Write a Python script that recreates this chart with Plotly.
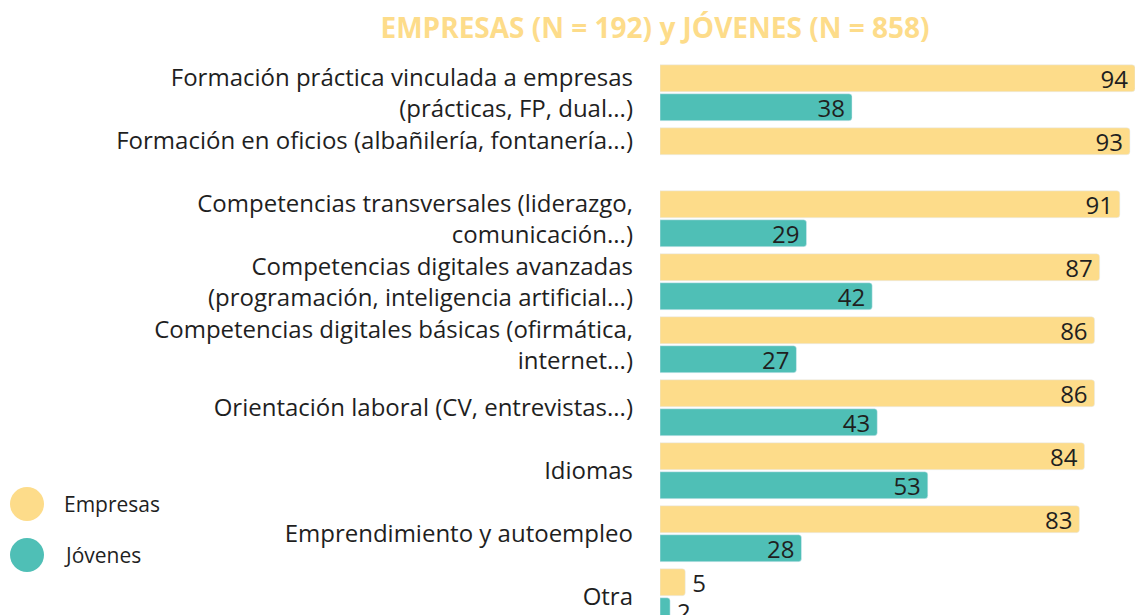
import plotly.graph_objects as go

categories = [
    "Formación práctica vinculada a empresas<br>(prácticas, FP, dual...)",
    "Formación en oficios (albañilería, fontanería...)<br> ",
    "Competencias transversales (liderazgo,<br>comunicación...)",
    "Competencias digitales avanzadas<br>(programación, inteligencia artificial...)",
    "Competencias digitales básicas (ofirmática,<br>internet...)",
    "Orientación laboral (CV, entrevistas...)",
    "Idiomas",
    "Emprendimiento y autoempleo",
    "Otra",
]
empresas = [94, 93, 91, 87, 86, 86, 84, 83, 5]
jovenes = [38, None, 29, 42, 27, 43, 53, 28, 2]

YELLOW = "#FDDC8A"
TEAL = "#4FBFB6"
FONT = "Open Sans"
TXT = "#1f1f1f"

fig = go.Figure()
for name, vals, col in [("Empresas", empresas, YELLOW), ("Jóvenes", jovenes, TEAL)]:
    positions = ["outside" if (v is not None and v < 10) else "inside" for v in vals]
    fig.add_trace(go.Bar(
        y=categories, x=vals, orientation="h", name=name,
        marker=dict(color=col),
        texttemplate="\u2009%{x}\u2009", textposition=positions, textangle=0,
        constraintext="none", insidetextanchor="end",
        textfont=dict(color=TXT, size=24, family=FONT),
        cliponaxis=False, showlegend=False, hoverinfo="x+y",
    ))

# legend drawn manually (large circles)
legend_items = [("Empresas", YELLOW, 111), ("Jóvenes", TEAL, 60)]
shapes = []
annotations = []
for name, col, off in legend_items:
    shapes.append(dict(type="circle", xref="paper", yref="paper", xanchor=0, yanchor=0,
                       xsizemode="pixel", ysizemode="pixel",
                       x0=-650, x1=-616, y0=off - 17, y1=off + 17,
                       fillcolor=col, line=dict(width=0)))
    annotations.append(dict(text=name, xref="paper", yref="paper",
                            x=(62 - 660) / 475, y=off / 555, xanchor="left", yanchor="middle",
                            showarrow=False, font=dict(family=FONT, size=21, color=TXT)))

fig.update_layout(
    width=1135, height=615,
    margin=dict(l=660, r=0, t=60, b=0),
    paper_bgcolor="white", plot_bgcolor="white",
    barmode="group", bargap=0.08, bargroupgap=0.07, barcornerradius=3,
    title=dict(text="<b>EMPRESAS (N = 192) y JÓVENES (N = 858)</b>",
               x=655 / 1135, xanchor="center", y=1 - 28 / 615, yanchor="middle",
               font=dict(family=FONT, size=28, color=YELLOW)),
    xaxis=dict(range=[0, 94], visible=False, fixedrange=True),
    yaxis=dict(range=[8.29, -0.52], showgrid=False, showline=False, zeroline=False,
               ticks="", ticklabelstandoff=26, fixedrange=True,
               tickfont=dict(family=FONT, size=24, color=TXT)),
    shapes=shapes, annotations=annotations,
)

fig.write_html("out.html", config={"displayModeBar": False},
               post_script="document.body.style.margin='0';document.body.style.overflow='hidden';")
